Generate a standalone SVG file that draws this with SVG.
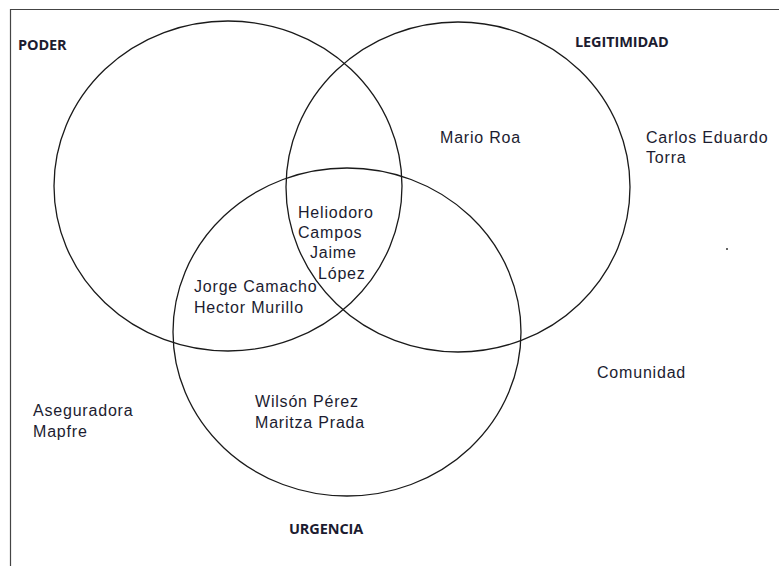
<svg xmlns="http://www.w3.org/2000/svg" width="779" height="566" viewBox="0 0 779 566">
<style>
.c{fill:none;stroke:#1a1a1a;stroke-width:1.3}
.t{font-family:"Liberation Sans",Arial,sans-serif;font-size:16px;letter-spacing:0.8px;fill:#1c1c30}
.h{font-family:"Open Sans","Liberation Sans",sans-serif;font-size:14.5px;font-weight:bold;fill:#1c1c30;letter-spacing:-0.1px}
</style>
<rect width="779" height="566" fill="#fff"/>
<path d="M10.5 566 V9.5 H779" fill="none" stroke="#444" stroke-width="1.2"/>
<g id="poder"><ellipse class="c" cx="228" cy="186" rx="174" ry="165"/><text class="h" x="18" y="50">PODER</text></g>
<g id="legitimidad"><ellipse class="c" cx="458" cy="187" rx="172" ry="165"/><text class="h" x="575" y="47">LEGITIMIDAD</text></g>
<g id="urgencia"><ellipse class="c" cx="347" cy="332" rx="174" ry="164"/><text class="h" x="289" y="534">URGENCIA</text></g>
<g id="mario"><text class="t" x="440" y="143">Mario Roa</text></g>
<g id="carlos"><text class="t" x="646" y="143">Carlos Eduardo</text><text class="t" x="646" y="163">Torra</text></g>
<g id="heliodoro"><text class="t" x="298" y="218">Heliodoro</text><text class="t" x="298" y="238">Campos</text><text class="t" x="310" y="258">Jaime</text><text class="t" x="318" y="279">López</text></g>
<g id="jorge"><text class="t" x="194" y="292">Jorge Camacho</text><text class="t" x="194" y="313">Hector Murillo</text></g>
<g id="wilson"><text class="t" x="255" y="407">Wilsón Pérez</text><text class="t" x="255" y="428">Maritza Prada</text></g>
<g id="aseguradora"><text class="t" x="33" y="416">Aseguradora</text><text class="t" x="33" y="437">Mapfre</text></g>
<g id="comunidad"><text class="t" x="597" y="378">Comunidad</text></g>
<circle cx="727" cy="249" r="1" fill="#333"/>
</svg>
